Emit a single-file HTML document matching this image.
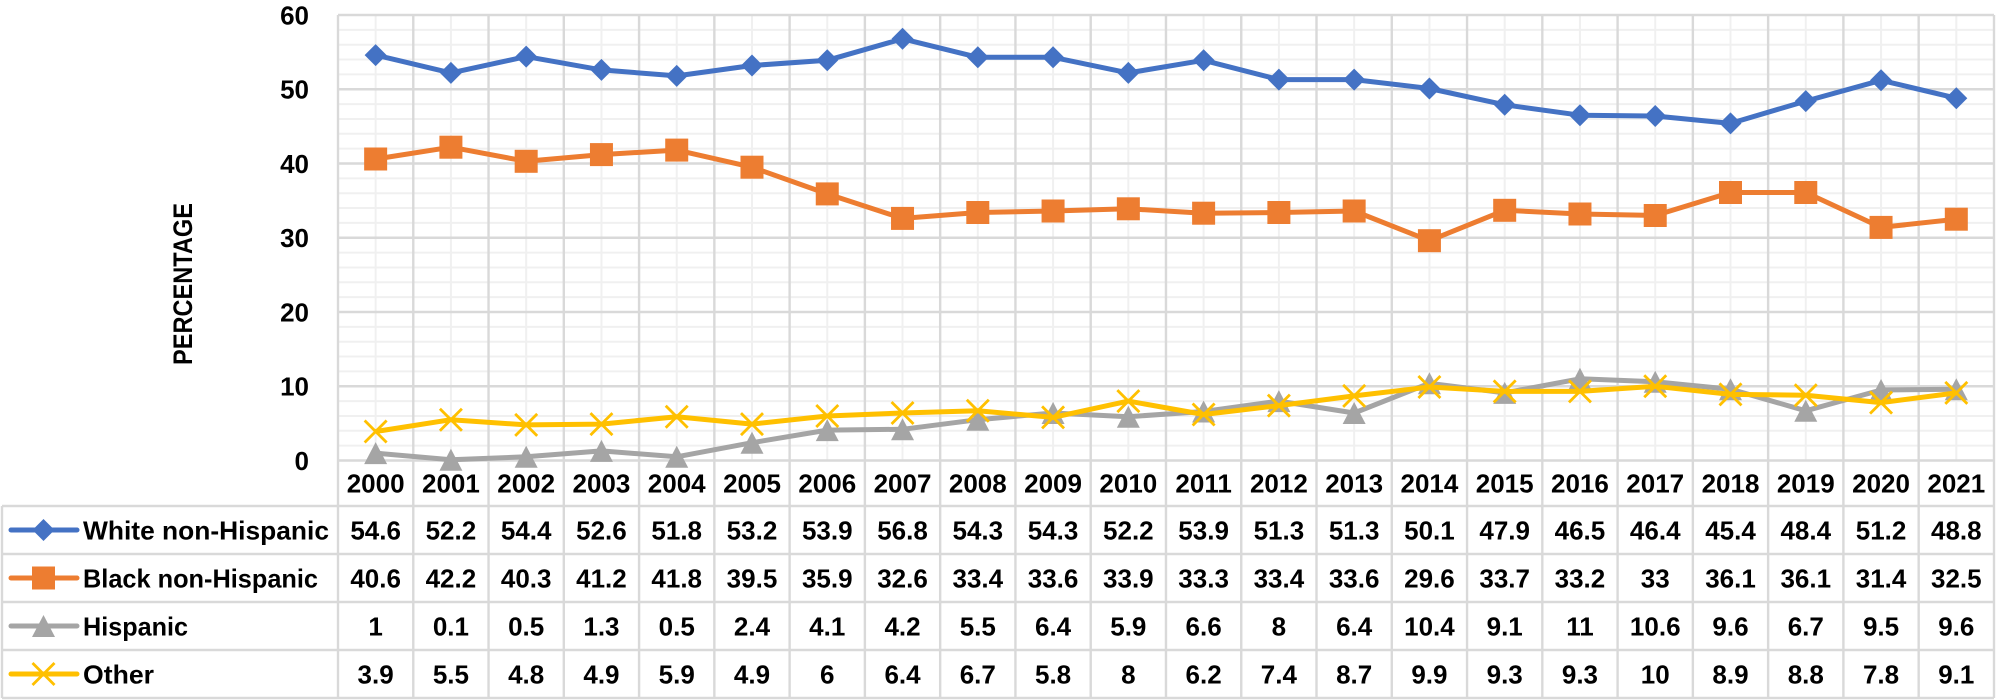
<!DOCTYPE html>
<html><head><meta charset="utf-8"><style>
html,body{margin:0;padding:0;background:#fff;}
svg{display:block;}
text{font-family:"Liberation Sans",Arial,sans-serif;font-weight:bold;fill:#000;}
</style></head><body>
<svg width="1996" height="700" viewBox="0 0 1996 700" xmlns="http://www.w3.org/2000/svg">
<defs>
<path id="dia" d="M0,-11 L11,0 L0,11 L-11,0Z" fill="#4472C4"/>
<rect id="sq" x="-11.5" y="-11.5" width="23" height="23" fill="#ED7D31"/>
<path id="tri" d="M0,-11 L11.5,11 L-11.5,11Z" fill="#A5A5A5"/>
<path id="xx" d="M-11,-11 L11,11 M11,-11 L-11,11" stroke="#FFC000" stroke-width="2.8" fill="none"/>
</defs>

<!-- minor horizontal gridlines -->
<g stroke="#f0f0f0" stroke-width="2">
<line x1="338" x2="1994" y1="445.65" y2="445.65"/><line x1="338" x2="1994" y1="430.8" y2="430.8"/><line x1="338" x2="1994" y1="415.95" y2="415.95"/><line x1="338" x2="1994" y1="401.1" y2="401.1"/>
<line x1="338" x2="1994" y1="371.4" y2="371.4"/><line x1="338" x2="1994" y1="356.55" y2="356.55"/><line x1="338" x2="1994" y1="341.7" y2="341.7"/><line x1="338" x2="1994" y1="326.85" y2="326.85"/>
<line x1="338" x2="1994" y1="297.15" y2="297.15"/><line x1="338" x2="1994" y1="282.3" y2="282.3"/><line x1="338" x2="1994" y1="267.45" y2="267.45"/><line x1="338" x2="1994" y1="252.6" y2="252.6"/>
<line x1="338" x2="1994" y1="222.9" y2="222.9"/><line x1="338" x2="1994" y1="208.05" y2="208.05"/><line x1="338" x2="1994" y1="193.2" y2="193.2"/><line x1="338" x2="1994" y1="178.35" y2="178.35"/>
<line x1="338" x2="1994" y1="148.65" y2="148.65"/><line x1="338" x2="1994" y1="133.8" y2="133.8"/><line x1="338" x2="1994" y1="118.95" y2="118.95"/><line x1="338" x2="1994" y1="104.1" y2="104.1"/>
<line x1="338" x2="1994" y1="74.4" y2="74.4"/><line x1="338" x2="1994" y1="59.55" y2="59.55"/><line x1="338" x2="1994" y1="44.7" y2="44.7"/><line x1="338" x2="1994" y1="29.85" y2="29.85"/>
</g>
<!-- minor vertical gridlines -->
<g stroke="#f0f0f0" stroke-width="2">
<line y1="15" y2="460" x1="375.64" x2="375.64"/><line y1="15" y2="460" x1="450.91" x2="450.91"/><line y1="15" y2="460" x1="526.18" x2="526.18"/><line y1="15" y2="460" x1="601.45" x2="601.45"/><line y1="15" y2="460" x1="676.72" x2="676.72"/><line y1="15" y2="460" x1="751.99" x2="751.99"/><line y1="15" y2="460" x1="827.26" x2="827.26"/><line y1="15" y2="460" x1="902.53" x2="902.53"/><line y1="15" y2="460" x1="977.8" x2="977.8"/><line y1="15" y2="460" x1="1053.07" x2="1053.07"/><line y1="15" y2="460" x1="1128.34" x2="1128.34"/><line y1="15" y2="460" x1="1203.61" x2="1203.61"/><line y1="15" y2="460" x1="1278.88" x2="1278.88"/><line y1="15" y2="460" x1="1354.15" x2="1354.15"/><line y1="15" y2="460" x1="1429.42" x2="1429.42"/><line y1="15" y2="460" x1="1504.69" x2="1504.69"/><line y1="15" y2="460" x1="1579.96" x2="1579.96"/><line y1="15" y2="460" x1="1655.23" x2="1655.23"/><line y1="15" y2="460" x1="1730.5" x2="1730.5"/><line y1="15" y2="460" x1="1805.77" x2="1805.77"/><line y1="15" y2="460" x1="1881.04" x2="1881.04"/><line y1="15" y2="460" x1="1956.31" x2="1956.31"/>
</g>
<!-- major gridlines & table -->
<g stroke="#d9d9d9" stroke-width="2.4">
<line x1="338" x2="1994" y1="15" y2="15"/>
<line x1="338" x2="1994" y1="89.25" y2="89.25"/>
<line x1="338" x2="1994" y1="163.5" y2="163.5"/>
<line x1="338" x2="1994" y1="237.75" y2="237.75"/>
<line x1="338" x2="1994" y1="312" y2="312"/>
<line x1="338" x2="1994" y1="386.25" y2="386.25"/>
<line x1="338" x2="1994" y1="460.5" y2="460.5"/>
<line x1="2" x2="1994" y1="506" y2="506"/>
<line x1="2" x2="1994" y1="554" y2="554"/>
<line x1="2" x2="1994" y1="602" y2="602"/>
<line x1="2" x2="1994" y1="650" y2="650"/>
<line x1="2" x2="1994" y1="698" y2="698"/>
<line x1="2" x2="2" y1="506" y2="698"/>
<line y1="15" y2="698" x1="338" x2="338"/><line y1="15" y2="698" x1="413.27" x2="413.27"/><line y1="15" y2="698" x1="488.54" x2="488.54"/><line y1="15" y2="698" x1="563.81" x2="563.81"/><line y1="15" y2="698" x1="639.08" x2="639.08"/><line y1="15" y2="698" x1="714.35" x2="714.35"/><line y1="15" y2="698" x1="789.62" x2="789.62"/><line y1="15" y2="698" x1="864.89" x2="864.89"/><line y1="15" y2="698" x1="940.16" x2="940.16"/><line y1="15" y2="698" x1="1015.43" x2="1015.43"/><line y1="15" y2="698" x1="1090.7" x2="1090.7"/><line y1="15" y2="698" x1="1165.97" x2="1165.97"/><line y1="15" y2="698" x1="1241.24" x2="1241.24"/><line y1="15" y2="698" x1="1316.51" x2="1316.51"/><line y1="15" y2="698" x1="1391.78" x2="1391.78"/><line y1="15" y2="698" x1="1467.05" x2="1467.05"/><line y1="15" y2="698" x1="1542.32" x2="1542.32"/><line y1="15" y2="698" x1="1617.59" x2="1617.59"/><line y1="15" y2="698" x1="1692.86" x2="1692.86"/><line y1="15" y2="698" x1="1768.13" x2="1768.13"/><line y1="15" y2="698" x1="1843.4" x2="1843.4"/><line y1="15" y2="698" x1="1918.67" x2="1918.67"/><line y1="15" y2="698" x1="1994" x2="1994"/>
</g>

<!-- Y axis labels -->
<g font-size="26" text-anchor="end">
<text x="309" y="24.5">60</text>
<text x="309" y="98.5">50</text>
<text x="309" y="172.8">40</text>
<text x="309" y="247">30</text>
<text x="309" y="321.3">20</text>
<text x="309" y="395.5">10</text>
<text x="309" y="469.8">0</text>
</g>
<text transform="translate(192,284) rotate(-90)" font-size="27" text-anchor="middle" textLength="162" lengthAdjust="spacingAndGlyphs">PERCENTAGE</text>

<!-- Series -->
<g fill="none" stroke-width="5" stroke-linejoin="round">
<polyline stroke="#4472C4" points="375.64,55.1 450.91,72.9 526.18,56.6 601.45,69.9 676.72,75.9 751.99,65.5 827.26,60.3 902.53,38.8 977.8,57.3 1053.07,57.3 1128.34,72.9 1203.61,60.3 1278.88,79.6 1354.15,79.6 1429.42,88.5 1504.69,104.8 1579.96,115.2 1655.23,116 1730.5,123.4 1805.77,101.1 1881.04,80.3 1956.31,98.2"/>
</g>
<g>
<use href="#dia" x="375.64" y="55.1"/><use href="#dia" x="450.91" y="72.9"/><use href="#dia" x="526.18" y="56.6"/><use href="#dia" x="601.45" y="69.9"/><use href="#dia" x="676.72" y="75.9"/><use href="#dia" x="751.99" y="65.5"/><use href="#dia" x="827.26" y="60.3"/><use href="#dia" x="902.53" y="38.8"/><use href="#dia" x="977.8" y="57.3"/><use href="#dia" x="1053.07" y="57.3"/><use href="#dia" x="1128.34" y="72.9"/><use href="#dia" x="1203.61" y="60.3"/><use href="#dia" x="1278.88" y="79.6"/><use href="#dia" x="1354.15" y="79.6"/><use href="#dia" x="1429.42" y="88.5"/><use href="#dia" x="1504.69" y="104.8"/><use href="#dia" x="1579.96" y="115.2"/><use href="#dia" x="1655.23" y="116"/><use href="#dia" x="1730.5" y="123.4"/><use href="#dia" x="1805.77" y="101.1"/><use href="#dia" x="1881.04" y="80.3"/><use href="#dia" x="1956.31" y="98.2"/>
</g>
<g fill="none" stroke-width="5" stroke-linejoin="round">
<polyline stroke="#ED7D31" points="375.64,159 450.91,147.2 526.18,161.3 601.45,154.6 676.72,150.1 751.99,167.2 827.26,193.9 902.53,218.4 977.8,212.5 1053.07,211 1128.34,208.8 1203.61,213.2 1278.88,212.5 1354.15,211 1429.42,240.7 1504.69,210.3 1579.96,214 1655.23,215.5 1730.5,192.5 1805.77,192.5 1881.04,227.4 1956.31,219.2"/>
</g>
<g>
<use href="#sq" x="375.64" y="159"/><use href="#sq" x="450.91" y="147.2"/><use href="#sq" x="526.18" y="161.3"/><use href="#sq" x="601.45" y="154.6"/><use href="#sq" x="676.72" y="150.1"/><use href="#sq" x="751.99" y="167.2"/><use href="#sq" x="827.26" y="193.9"/><use href="#sq" x="902.53" y="218.4"/><use href="#sq" x="977.8" y="212.5"/><use href="#sq" x="1053.07" y="211"/><use href="#sq" x="1128.34" y="208.8"/><use href="#sq" x="1203.61" y="213.2"/><use href="#sq" x="1278.88" y="212.5"/><use href="#sq" x="1354.15" y="211"/><use href="#sq" x="1429.42" y="240.7"/><use href="#sq" x="1504.69" y="210.3"/><use href="#sq" x="1579.96" y="214"/><use href="#sq" x="1655.23" y="215.5"/><use href="#sq" x="1730.5" y="192.5"/><use href="#sq" x="1805.77" y="192.5"/><use href="#sq" x="1881.04" y="227.4"/><use href="#sq" x="1956.31" y="219.2"/>
</g>
<g fill="none" stroke-width="5" stroke-linejoin="round">
<polyline stroke="#A5A5A5" points="375.64,453.1 450.91,459.8 526.18,456.8 601.45,450.9 676.72,456.8 751.99,442.7 827.26,430.1 902.53,429.3 977.8,419.7 1053.07,413 1128.34,416.7 1203.61,411.5 1278.88,401.1 1354.15,413 1429.42,383.3 1504.69,392.9 1579.96,378.8 1655.23,381.8 1730.5,389.2 1805.77,410.8 1881.04,390 1956.31,389.2"/>
</g>
<g>
<use href="#tri" x="375.64" y="453.1"/><use href="#tri" x="450.91" y="459.8"/><use href="#tri" x="526.18" y="456.8"/><use href="#tri" x="601.45" y="450.9"/><use href="#tri" x="676.72" y="456.8"/><use href="#tri" x="751.99" y="442.7"/><use href="#tri" x="827.26" y="430.1"/><use href="#tri" x="902.53" y="429.3"/><use href="#tri" x="977.8" y="419.7"/><use href="#tri" x="1053.07" y="413"/><use href="#tri" x="1128.34" y="416.7"/><use href="#tri" x="1203.61" y="411.5"/><use href="#tri" x="1278.88" y="401.1"/><use href="#tri" x="1354.15" y="413"/><use href="#tri" x="1429.42" y="383.3"/><use href="#tri" x="1504.69" y="392.9"/><use href="#tri" x="1579.96" y="378.8"/><use href="#tri" x="1655.23" y="381.8"/><use href="#tri" x="1730.5" y="389.2"/><use href="#tri" x="1805.77" y="410.8"/><use href="#tri" x="1881.04" y="390"/><use href="#tri" x="1956.31" y="389.2"/>
</g>
<g fill="none" stroke-width="5" stroke-linejoin="round">
<polyline stroke="#FFC000" points="375.64,431.5 450.91,419.7 526.18,424.9 601.45,424.1 676.72,416.7 751.99,424.1 827.26,416 902.53,413 977.8,410.8 1053.07,417.4 1128.34,401.1 1203.61,414.5 1278.88,405.6 1354.15,395.9 1429.42,387 1504.69,391.4 1579.96,391.4 1655.23,386.3 1730.5,394.4 1805.77,395.2 1881.04,402.6 1956.31,392.9"/>
</g>
<g>
<use href="#xx" x="375.64" y="431.5"/><use href="#xx" x="450.91" y="419.7"/><use href="#xx" x="526.18" y="424.9"/><use href="#xx" x="601.45" y="424.1"/><use href="#xx" x="676.72" y="416.7"/><use href="#xx" x="751.99" y="424.1"/><use href="#xx" x="827.26" y="416"/><use href="#xx" x="902.53" y="413"/><use href="#xx" x="977.8" y="410.8"/><use href="#xx" x="1053.07" y="417.4"/><use href="#xx" x="1128.34" y="401.1"/><use href="#xx" x="1203.61" y="414.5"/><use href="#xx" x="1278.88" y="405.6"/><use href="#xx" x="1354.15" y="395.9"/><use href="#xx" x="1429.42" y="387"/><use href="#xx" x="1504.69" y="391.4"/><use href="#xx" x="1579.96" y="391.4"/><use href="#xx" x="1655.23" y="386.3"/><use href="#xx" x="1730.5" y="394.4"/><use href="#xx" x="1805.77" y="395.2"/><use href="#xx" x="1881.04" y="402.6"/><use href="#xx" x="1956.31" y="392.9"/>
</g>

<!-- Legend keys in table -->
<g stroke-width="5" stroke-linecap="round">
<line x1="11" x2="77" y1="530" y2="530" stroke="#4472C4"/>
<line x1="11" x2="77" y1="578" y2="578" stroke="#ED7D31"/>
<line x1="11" x2="77" y1="626" y2="626" stroke="#A5A5A5"/>
<line x1="11" x2="77" y1="674" y2="674" stroke="#FFC000"/>
</g>
<use href="#dia" x="43.5" y="530"/>
<use href="#sq" x="43.5" y="578"/>
<use href="#tri" x="43.5" y="626"/>
<use href="#xx" x="43.5" y="674"/>
<g font-size="26">
<text x="83" y="539.3" textLength="246" lengthAdjust="spacingAndGlyphs">White non-Hispanic</text>
<text x="83" y="587.3" textLength="235" lengthAdjust="spacingAndGlyphs">Black non-Hispanic</text>
<text x="83" y="635.3" textLength="105" lengthAdjust="spacingAndGlyphs">Hispanic</text>
<text x="83" y="683.3" textLength="71" lengthAdjust="spacingAndGlyphs">Other</text>
</g>

<!-- Table values -->
<g font-size="26" text-anchor="middle">
<text y="492.5"><tspan x="375.64">2000</tspan><tspan x="450.91">2001</tspan><tspan x="526.18">2002</tspan><tspan x="601.45">2003</tspan><tspan x="676.72">2004</tspan><tspan x="751.99">2005</tspan><tspan x="827.26">2006</tspan><tspan x="902.53">2007</tspan><tspan x="977.8">2008</tspan><tspan x="1053.07">2009</tspan><tspan x="1128.34">2010</tspan><tspan x="1203.61">2011</tspan><tspan x="1278.88">2012</tspan><tspan x="1354.15">2013</tspan><tspan x="1429.42">2014</tspan><tspan x="1504.69">2015</tspan><tspan x="1579.96">2016</tspan><tspan x="1655.23">2017</tspan><tspan x="1730.5">2018</tspan><tspan x="1805.77">2019</tspan><tspan x="1881.04">2020</tspan><tspan x="1956.31">2021</tspan></text>
<text y="539.3"><tspan x="375.64">54.6</tspan><tspan x="450.91">52.2</tspan><tspan x="526.18">54.4</tspan><tspan x="601.45">52.6</tspan><tspan x="676.72">51.8</tspan><tspan x="751.99">53.2</tspan><tspan x="827.26">53.9</tspan><tspan x="902.53">56.8</tspan><tspan x="977.8">54.3</tspan><tspan x="1053.07">54.3</tspan><tspan x="1128.34">52.2</tspan><tspan x="1203.61">53.9</tspan><tspan x="1278.88">51.3</tspan><tspan x="1354.15">51.3</tspan><tspan x="1429.42">50.1</tspan><tspan x="1504.69">47.9</tspan><tspan x="1579.96">46.5</tspan><tspan x="1655.23">46.4</tspan><tspan x="1730.5">45.4</tspan><tspan x="1805.77">48.4</tspan><tspan x="1881.04">51.2</tspan><tspan x="1956.31">48.8</tspan></text>
<text y="587.3"><tspan x="375.64">40.6</tspan><tspan x="450.91">42.2</tspan><tspan x="526.18">40.3</tspan><tspan x="601.45">41.2</tspan><tspan x="676.72">41.8</tspan><tspan x="751.99">39.5</tspan><tspan x="827.26">35.9</tspan><tspan x="902.53">32.6</tspan><tspan x="977.8">33.4</tspan><tspan x="1053.07">33.6</tspan><tspan x="1128.34">33.9</tspan><tspan x="1203.61">33.3</tspan><tspan x="1278.88">33.4</tspan><tspan x="1354.15">33.6</tspan><tspan x="1429.42">29.6</tspan><tspan x="1504.69">33.7</tspan><tspan x="1579.96">33.2</tspan><tspan x="1655.23">33</tspan><tspan x="1730.5">36.1</tspan><tspan x="1805.77">36.1</tspan><tspan x="1881.04">31.4</tspan><tspan x="1956.31">32.5</tspan></text>
<text y="635.3"><tspan x="375.64">1</tspan><tspan x="450.91">0.1</tspan><tspan x="526.18">0.5</tspan><tspan x="601.45">1.3</tspan><tspan x="676.72">0.5</tspan><tspan x="751.99">2.4</tspan><tspan x="827.26">4.1</tspan><tspan x="902.53">4.2</tspan><tspan x="977.8">5.5</tspan><tspan x="1053.07">6.4</tspan><tspan x="1128.34">5.9</tspan><tspan x="1203.61">6.6</tspan><tspan x="1278.88">8</tspan><tspan x="1354.15">6.4</tspan><tspan x="1429.42">10.4</tspan><tspan x="1504.69">9.1</tspan><tspan x="1579.96">11</tspan><tspan x="1655.23">10.6</tspan><tspan x="1730.5">9.6</tspan><tspan x="1805.77">6.7</tspan><tspan x="1881.04">9.5</tspan><tspan x="1956.31">9.6</tspan></text>
<text y="683.3"><tspan x="375.64">3.9</tspan><tspan x="450.91">5.5</tspan><tspan x="526.18">4.8</tspan><tspan x="601.45">4.9</tspan><tspan x="676.72">5.9</tspan><tspan x="751.99">4.9</tspan><tspan x="827.26">6</tspan><tspan x="902.53">6.4</tspan><tspan x="977.8">6.7</tspan><tspan x="1053.07">5.8</tspan><tspan x="1128.34">8</tspan><tspan x="1203.61">6.2</tspan><tspan x="1278.88">7.4</tspan><tspan x="1354.15">8.7</tspan><tspan x="1429.42">9.9</tspan><tspan x="1504.69">9.3</tspan><tspan x="1579.96">9.3</tspan><tspan x="1655.23">10</tspan><tspan x="1730.5">8.9</tspan><tspan x="1805.77">8.8</tspan><tspan x="1881.04">7.8</tspan><tspan x="1956.31">9.1</tspan></text>
</g>
</svg>
</body></html>
